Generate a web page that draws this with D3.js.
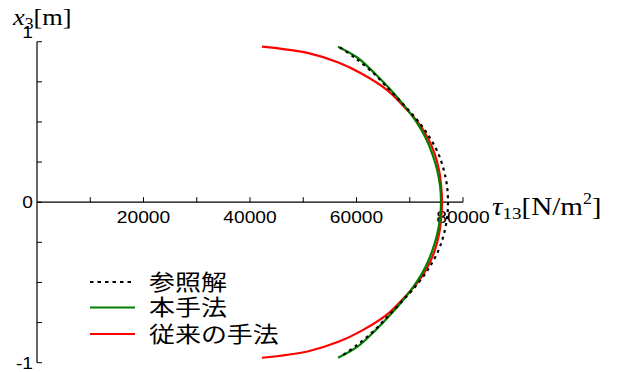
<!DOCTYPE html>
<html>
<head>
<meta charset="utf-8">
<script src="https://cdn.jsdelivr.net/npm/d3@7"></script>
<style>
  html, body { margin: 0; padding: 0; background: #fff; }
  svg { display: block; }
</style>
</head>
<body>
<svg id="chart" width="617" height="372"></svg>
<script>
// Through-thickness coordinate x3 [m] (upper half; the profiles are symmetric about x3 = 0)
const x3Ref   = [0.965, 0.9, 0.8, 0.7, 0.6, 0.5, 0.4, 0.3, 0.2, 0.1, 0];
const tauRef  = [56900, 59700, 63300, 66200, 69050, 71700, 73800, 75400, 76400, 77000, 77180];

const x3Prop  = [0.969, 0.9, 0.8, 0.7, 0.6, 0.5, 0.4, 0.3, 0.2, 0.1, 0];
const tauProp = [56530, 60200, 63500, 66400, 69000, 71250, 73000, 74250, 75150, 75700, 75870];

const x3Conv  = [0.969, 0.93, 0.87, 0.8, 0.7, 0.6, 0.5, 0.4, 0.3, 0.2, 0.1, 0];
const tauConv = [42250, 50800, 56600, 61000, 65700, 68800, 71500, 73400, 74700, 75500, 75900, 76060];

const xTicks = [10000, 20000, 30000, 40000, 50000, 60000, 70000, 80000];
const xTickLabels = [20000, 40000, 60000, 80000];
const yTicks = [-1, -0.75, -0.5, -0.25, 0, 0.25, 0.5, 0.75, 1];
const yTickLabels = [-1, 0, 1];

const legendLabels = ["参照解", "本手法", "従来の手法"];

// mirror an upper-half profile onto the lower half
function fullProfile(x3s, taus) {
  const top = x3s.map((z, i) => ({ z, t: taus[i] }));
  const bottom = top.slice(0, -1).reverse().map(d => ({ z: -d.z, t: d.t }));
  return top.concat(bottom);
}

const svg = d3.select("#chart");
const x = d3.scaleLinear().domain([0, 80000]).range([37, 463]);
const y = d3.scaleLinear().domain([-1, 1]).range([362.7, 41.7]);

const TXT = "'Liberation Sans', Arial, sans-serif";
const SERIF = "'Liberation Serif', 'Times New Roman', serif";
const CJK = "'Noto Sans CJK JP', 'Noto Sans', sans-serif";
const SX = 1.2;

// horizontal axis at x3 = 0
svg.append("line").attr("x1", x(0)).attr("x2", x(80000))
  .attr("y1", y(0)).attr("y2", y(0)).attr("stroke", "#000").attr("stroke-width", 1.2);
svg.selectAll(".xt").data(xTicks).enter().append("line")
  .attr("x1", d => x(d)).attr("x2", d => x(d))
  .attr("y1", y(0)).attr("y2", y(0) - 5)
  .attr("stroke", "#000").attr("stroke-width", 1);
svg.selectAll(".xl").data(xTickLabels).enter().append("text")
  .attr("transform", d => `translate(${x(d)},${y(0) + 20.5}) scale(${SX},1)`)
  .attr("text-anchor", "middle")
  .attr("font-family", TXT).attr("font-size", 16)
  .text(d => d);

// vertical axis
svg.append("line").attr("x1", x(0)).attr("x2", x(0))
  .attr("y1", y(1)).attr("y2", y(-1)).attr("stroke", "#000").attr("stroke-width", 1.2);
svg.selectAll(".yt").data(yTicks).enter().append("line")
  .attr("x1", x(0)).attr("x2", x(0) + 5)
  .attr("y1", d => y(d)).attr("y2", d => y(d))
  .attr("stroke", "#000").attr("stroke-width", 1);
svg.selectAll(".yl").data(yTickLabels).enter().append("text")
  .attr("transform", d => `translate(33,${d === 1 ? y(d) - 3.5 : y(d) + 6}) scale(${SX},1)`)
  .attr("text-anchor", "end")
  .attr("font-family", TXT).attr("font-size", 16)
  .text(d => d === -1 ? "-1" : d);

// axis titles
const yTitle = svg.append("text")
  .attr("transform", `translate(13,25) scale(1.1,1)`)
  .attr("font-family", SERIF).attr("font-size", 24);
yTitle.append("tspan").attr("font-style", "italic").text("x");
yTitle.append("tspan").attr("font-size", 16).attr("dy", 4).text("3");
yTitle.append("tspan").attr("dy", -4).text("[m]");

const xTitle = svg.append("text")
  .attr("transform", `translate(492,215) scale(1.12,1)`)
  .attr("font-family", SERIF).attr("font-size", 26);
xTitle.append("tspan").attr("font-style", "italic").text("τ");
xTitle.append("tspan").attr("font-size", 17).attr("dy", 4).text("13");
xTitle.append("tspan").attr("dy", -4).text("[N/m");
xTitle.append("tspan").attr("font-size", 16).attr("dy", -11).text("2");
xTitle.append("tspan").attr("dy", 11).text("]");

// stress profiles
const line = d3.line().x(d => x(d.t)).y(d => y(d.z)).curve(d3.curveCatmullRom.alpha(0.5));

svg.append("path").datum(fullProfile(x3Conv, tauConv))
  .attr("d", line).attr("fill", "none").attr("stroke", "#ff0000").attr("stroke-width", 2.2);
svg.append("path").datum(fullProfile(x3Prop, tauProp))
  .attr("d", line).attr("fill", "none").attr("stroke", "#008000").attr("stroke-width", 2.2);
svg.append("path").datum(fullProfile(x3Ref, tauRef))
  .attr("d", line).attr("fill", "none").attr("stroke", "#000").attr("stroke-width", 2.2)
  .attr("stroke-dasharray", "3,4");

// legend
const legendStyles = [
  { stroke: "#000", dash: "3.5,4", y: 282 },
  { stroke: "#008000", dash: null, y: 307.5 },
  { stroke: "#ff0000", dash: null, y: 334 }
];
const lg = svg.append("g");
legendLabels.forEach((lab, i) => {
  const s = legendStyles[i];
  lg.append("line").attr("x1", 90).attr("x2", 135).attr("y1", s.y).attr("y2", s.y)
    .attr("stroke", s.stroke).attr("stroke-width", 2.2)
    .attr("stroke-dasharray", s.dash);
  lg.append("text")
    .attr("transform", `translate(149,${s.y + 7.5}) scale(1.18,1)`)
    .attr("font-family", CJK).attr("font-size", 22)
    .text(lab);
});
</script>
</body>
</html>
